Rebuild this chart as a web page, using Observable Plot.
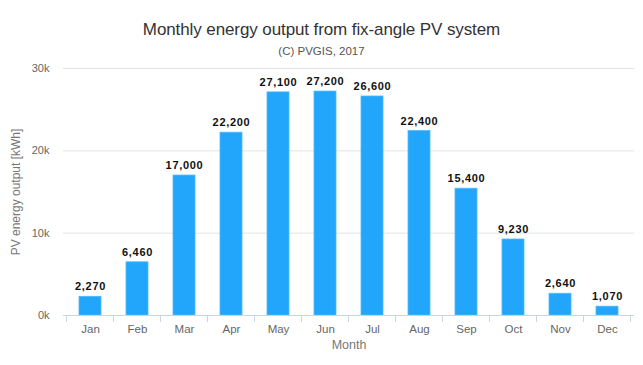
<!DOCTYPE html>
<html>
<head>
<meta charset="utf-8">
<script src="https://cdn.jsdelivr.net/npm/d3@7"></script>
<script src="https://cdn.jsdelivr.net/npm/@observablehq/plot@0.6"></script>
<style>
  body { margin: 0; background: #fff; font-family: Arial, "Liberation Sans", sans-serif; }
  #wrap { width: 643px; }
  #header { height: 60px; text-align: center; }
  #title { font-size: 17px; line-height: 20px; padding-top: 20px; color: #333; letter-spacing: -0.1px; }
  #subtitle { font-size: 11.5px; line-height: 14px; margin-top: 4px; color: #555; }
  .vals text { letter-spacing: 0.7px; }
</style>
</head>
<body>
<div id="wrap">
  <div id="header">
    <div id="title">Monthly energy output from fix-angle PV system</div>
    <div id="subtitle">(C) PVGIS, 2017</div>
  </div>
  <div id="chart"></div>
</div>
<script>
const months = ["Jan","Feb","Mar","Apr","May","Jun","Jul","Aug","Sep","Oct","Nov","Dec"];
const output = [2270, 6460, 17000, 22200, 27100, 27200, 26600, 22400, 15400, 9230, 2640, 1070];
const yTicks = [0, 10000, 20000, 30000];
const yLabel = "PV energy output [kWh]";
const xLabel = "Month";

const data = months.map((m, i) => ({month: m, value: output[i]}));
const pad = 0.53;

function boundaryTicks(index, scales, values, dimensions) {
  const x = scales.x;
  const bw = typeof x.bandwidth === "function" ? x.bandwidth() : x.bandwidth;
  const step = x(months[1]) - x(months[0]);
  const y0 = scales.y(0);
  const g = d3.create("svg:g").attr("stroke", "#c9d5e3").attr("stroke-width", 1);
  const bounds = months.map(m => x(m) + bw / 2 - step / 2);
  bounds.push(x(months[months.length - 1]) + bw / 2 + step / 2);
  for (const b of bounds) {
    g.append("line").attr("x1", b).attr("x2", b).attr("y1", y0).attr("y2", y0 + 7);
  }
  return g.node();
}

const chart = Plot.plot({
  width: 643,
  height: 305,
  marginTop: 8,
  marginBottom: 50,
  marginLeft: 63,
  marginRight: 9,
  style: {fontFamily: "Arial, 'Liberation Sans', sans-serif", fontSize: "11px", color: "#666", background: "#fff"},
  x: {domain: months, paddingInner: pad, paddingOuter: pad / 2, label: null},
  y: {domain: [0, 30000], label: null},
  marks: [
    Plot.gridY(yTicks.slice(1), {stroke: "#e3e3e3", strokeOpacity: 1}),
    Plot.barY(data, {x: "month", y: "value", fill: "#22a6fc", stroke: "#52b8fb", strokeWidth: 0.8}),
    Plot.ruleY([0], {stroke: "#c9d5e3"}),
    boundaryTicks,
    Plot.axisY({ticks: yTicks, tickSize: 0, tickPadding: 14, tickFormat: d => d / 1000 + "k", label: null, fill: "#666", fontSize: 11}),
    Plot.axisX({tickSize: 0, tickPadding: 9, label: null, fill: "#666", fontSize: 11.5}),
    Plot.text(data, {x: "month", y: "value", text: d => d3.format(",")(d.value), dy: -10, fill: "#111", fontWeight: "bold", fontSize: 11, className: "vals"}),
    Plot.text([yLabel], {text: d => d, frameAnchor: "left", textAnchor: "middle", rotate: -90, dx: -47, fill: "#777", fontSize: 12}),
    Plot.text([xLabel], {text: d => d, frameAnchor: "bottom", dy: 33, fill: "#777", fontSize: 12.5})
  ]
});
document.getElementById("chart").appendChild(chart);
</script>
</body>
</html>
